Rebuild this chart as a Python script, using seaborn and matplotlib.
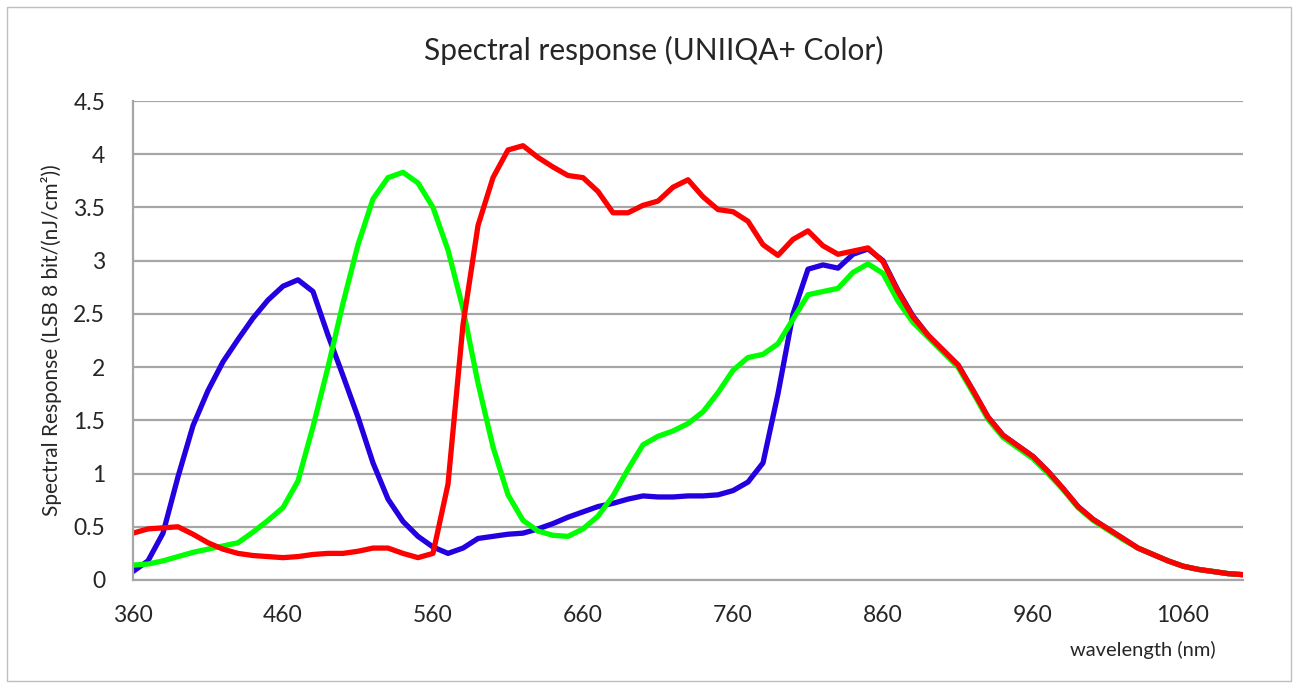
import numpy as np
import pandas as pd
import matplotlib
matplotlib.use("Agg")
import matplotlib.pyplot as plt
from matplotlib.patches import Rectangle
import seaborn as sns

# ----- dados (passo de 10 nm) -----
wavelength = list(range(360, 1101, 10))

blue = [0.08, 0.18, 0.44, 0.97, 1.45, 1.78, 2.05, 2.26, 2.46, 2.63,
        2.76, 2.82, 2.71, 2.30, 1.92, 1.53, 1.10, 0.76, 0.55, 0.41,
        0.31, 0.25, 0.30, 0.39, 0.41, 0.43, 0.44, 0.48, 0.53, 0.59,
        0.64, 0.69, 0.72, 0.76, 0.79, 0.78, 0.78, 0.79, 0.79, 0.80,
        0.84, 0.92, 1.10, 1.75, 2.50, 2.92, 2.96, 2.93, 3.06, 3.11,
        3.00, 2.72, 2.48, 2.30, 2.16, 2.02, 1.78, 1.53, 1.36, 1.26,
        1.16, 1.02, 0.86, 0.69, 0.57, 0.48, 0.39, 0.30, 0.24, 0.18,
        0.13, 0.10, 0.08, 0.06, 0.05]

green = [0.14, 0.15, 0.18, 0.22, 0.26, 0.29, 0.32, 0.35, 0.45, 0.56,
         0.68, 0.93, 1.44, 2.00, 2.60, 3.15, 3.58, 3.78, 3.83, 3.73,
         3.50, 3.10, 2.55, 1.85, 1.25, 0.80, 0.56, 0.46, 0.42, 0.41,
         0.48, 0.60, 0.79, 1.04, 1.27, 1.35, 1.40, 1.47, 1.58, 1.76,
         1.97, 2.09, 2.12, 2.22, 2.45, 2.68, 2.71, 2.74, 2.89, 2.97,
         2.88, 2.62, 2.42, 2.28, 2.14, 2.00, 1.76, 1.51, 1.34, 1.24,
         1.14, 1.00, 0.85, 0.68, 0.56, 0.47, 0.38, 0.30, 0.24, 0.18,
         0.13, 0.10, 0.08, 0.06, 0.05]

red = [0.44, 0.48, 0.49, 0.50, 0.43, 0.35, 0.29, 0.25, 0.23, 0.22,
       0.21, 0.22, 0.24, 0.25, 0.25, 0.27, 0.30, 0.30, 0.25, 0.21,
       0.25, 0.90, 2.40, 3.33, 3.78, 4.04, 4.08, 3.97, 3.88, 3.80,
       3.78, 3.65, 3.45, 3.45, 3.52, 3.56, 3.69, 3.76, 3.60, 3.48,
       3.46, 3.37, 3.15, 3.05, 3.20, 3.28, 3.14, 3.06, 3.09, 3.12,
       2.99, 2.71, 2.47, 2.30, 2.16, 2.02, 1.78, 1.53, 1.36, 1.26,
       1.16, 1.02, 0.86, 0.69, 0.57, 0.48, 0.39, 0.30, 0.24, 0.18,
       0.13, 0.10, 0.08, 0.06, 0.05]

x_ticks = [360, 460, 560, 660, 760, 860, 960, 1060]
y_ticks = [0, 0.5, 1, 1.5, 2, 2.5, 3, 3.5, 4, 4.5]
y_tick_labels = ["0", "0.5", "1", "1.5", "2", "2.5", "3", "3.5", "4", "4.5"]

df = pd.DataFrame({"wavelength": wavelength, "blue": blue, "green": green, "red": red})

# ----- estilo -----
sns.set_theme(style="white")
plt.rcParams["font.family"] = ["Lato", "DejaVu Sans"]

fig = plt.figure(figsize=(12.99, 6.88), dpi=100)
ax = fig.add_axes([133 / 1299, 1 - 580 / 688, 1110 / 1299, 479 / 688])

# borda externa do gráfico
fig.patches.append(Rectangle((7 / 1299, 7 / 688), 1284 / 1299, 674 / 688,
                             transform=fig.transFigure, fill=False,
                             edgecolor="#BFBFBF", linewidth=1))

cores = {"blue": "#2200E0", "green": "#00FF00", "red": "#FF0000"}
for serie in ["blue", "green", "red"]:
    sns.lineplot(data=df, x="wavelength", y=serie, ax=ax, color=cores[serie],
                 linewidth=3.8, solid_joinstyle="round", solid_capstyle="round")

ax.set_xlim(360, 1100)
ax.set_ylim(0, 4.5)
ax.set_xticks(x_ticks)
ax.set_xticklabels([str(t) for t in x_ticks], fontsize=16.5)
ax.set_yticks(y_ticks)
ax.set_yticklabels(y_tick_labels, fontsize=16.5)
ax.tick_params(axis="both", length=0)
ax.tick_params(axis="x", pad=18)
ax.tick_params(axis="y", pad=20)

ax.grid(axis="y", color="#A6A6A6", linewidth=1.6)
ax.grid(axis="x", visible=False)
ax.set_axisbelow(True)
for lado in ["top", "right"]:
    ax.spines[lado].set_visible(False)
for lado in ["left", "bottom"]:
    ax.spines[lado].set_color("#A6A6A6")
    ax.spines[lado].set_linewidth(1.6)

ax.set_xlabel("")
ax.set_ylabel("Spectral Response (LSB 8 bit/(nJ/cm²))", fontsize=15, labelpad=8)
fig.text(1216 / 1299, 1 - 650 / 688, "wavelength (nm)", ha="right", va="center", fontsize=14.5)
fig.text(0.503, 1 - 50 / 688, "Spectral response (UNIIQA+ Color)", ha="center", va="center", fontsize=21.5)

fig.savefig("out.png", dpi=100)
